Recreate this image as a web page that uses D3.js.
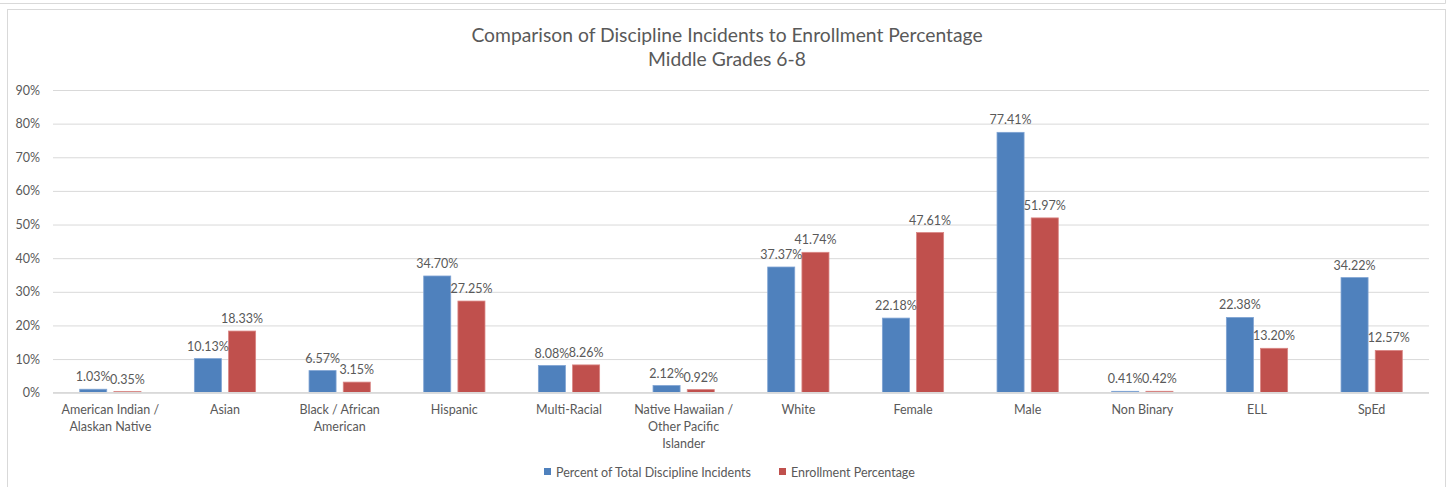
<!DOCTYPE html>
<html>
<head>
<meta charset="utf-8">
<script src="https://cdn.jsdelivr.net/npm/d3@7"></script>
<style>
  html, body { margin: 0; padding: 0; background: #fff; }
  svg { display: block; }
  text { font-family: Lato, "Open Sans", sans-serif; fill: #595959; }
</style>
</head>
<body>
<svg id="chart" width="1448" height="487"></svg>
<script>
const categories = ["American Indian / Alaskan Native", "Asian", "Black / African American", "Hispanic", "Multi-Racial", "Native Hawaiian / Other Pacific Islander", "White", "Female", "Male", "Non Binary", "ELL", "SpEd"];
const disciplinePct = [1.03, 10.13, 6.57, 34.70, 8.08, 2.12, 37.37, 22.18, 77.41, 0.41, 22.38, 34.22];
const enrollmentPct = [0.35, 18.33, 3.15, 27.25, 8.26, 0.92, 41.74, 47.61, 51.97, 0.42, 13.20, 12.57];
const seriesNames = ["Percent of Total Discipline Incidents", "Enrollment Percentage"];
const yTicks = [0, 10, 20, 30, 40, 50, 60, 70, 80, 90];
const titleLines = ["Comparison of Discipline Incidents to Enrollment Percentage", "Middle Grades 6-8"];

(function () {
const colors = ["#4F81BD", "#C0504D"];
const strokeColors = ["#7fa3d3", "#d98583"];
const fs = 12.5;
const svg = d3.select("#chart");

// outer frames
svg.append("path").attr("d", "M0,3.5H1445.5V0").attr("fill", "none").attr("stroke", "#d9d9d9");
svg.append("rect").attr("x", 7.5).attr("y", 9.5).attr("width", 1438).attr("height", 490)
  .attr("fill", "#fff").attr("stroke", "#d9d9d9");

const pLeft = 53, pRight = 1429, pTop = 90, pBottom = 392.7;
const x0 = d3.scaleBand().domain(categories).range([pLeft, pRight]).paddingInner(0).paddingOuter(0);
const y = d3.scaleLinear().domain([0, 90]).range([pBottom, pTop]);
const x1 = d3.scaleBand().domain([0, 1]).range([0, x0.bandwidth()]).paddingInner(0.21).paddingOuter(0.78);

// gridlines
const yAxis = d3.axisLeft(y).tickValues(yTicks).tickSize(-(pRight - pLeft)).tickFormat(d => d + "%").tickPadding(13);
const gy = svg.append("g").attr("transform", `translate(${pLeft},0)`).call(yAxis);
gy.select(".domain").remove();
gy.selectAll(".tick line").attr("stroke", "#d9d9d9").attr("stroke-width", 1);
gy.selectAll(".tick text").attr("font-size", fs).style("fill", "#595959").style("font-family", "Lato, sans-serif");

// bars
const series = [disciplinePct, enrollmentPct];
const groups = svg.append("g").selectAll("g").data(categories).join("g")
  .attr("transform", d => `translate(${x0(d)},0)`);

series.forEach((vals, si) => {
  groups.append("rect")
    .attr("x", x1(si))
    .attr("width", x1.bandwidth())
    .attr("y", (d, i) => y(vals[i]))
    .attr("height", (d, i) => pBottom - y(vals[i]))
    .attr("fill", colors[si])
    .attr("stroke", strokeColors[si])
    .attr("stroke-width", 0.8);
});
series.forEach((vals, si) => {
  groups.append("text")
    .attr("x", x1(si) + x1.bandwidth() / 2)
    .attr("y", (d, i) => y(vals[i]) - 8)
    .attr("text-anchor", "middle")
    .attr("font-size", fs)
    .text((d, i) => vals[i].toFixed(2) + "%");
});

// x axis baseline
svg.append("line").attr("x1", pLeft).attr("x2", pRight).attr("y1", pBottom).attr("y2", pBottom)
  .attr("stroke", "#d9d9d9").attr("stroke-width", 1.5);

// x labels with wrapping
const measure = svg.append("text").attr("font-size", fs).attr("visibility", "hidden");
function wrap(str, maxW) {
  const words = str.split(" ");
  const lines = [];
  let cur = "";
  words.forEach(w => {
    const test = cur ? cur + " " + w : w;
    measure.text(test);
    if (measure.node().getComputedTextLength() > maxW && cur) {
      lines.push(cur); cur = w;
    } else cur = test;
  });
  if (cur) lines.push(cur);
  return lines;
}
categories.forEach(c => {
  const lines = wrap(c, 104);
  const cx = x0(c) + x0.bandwidth() / 2;
  const t = svg.append("text").attr("text-anchor", "middle").attr("font-size", fs)
    .attr("x", cx).attr("y", 414);
  lines.forEach((l, i) => t.append("tspan").attr("x", cx).attr("dy", i === 0 ? 0 : 17).text(l));
});
measure.remove();

// title
titleLines.forEach((l, i) => {
  svg.append("text").attr("x", 727).attr("y", 42 + i * 24).attr("text-anchor", "middle")
    .attr("font-size", 19.3).text(l);
});

// legend
const legend = svg.append("g");
const legendX = [544, 779];
seriesNames.forEach((n, i) => {
  legend.append("rect").attr("x", legendX[i]).attr("y", 468).attr("width", 7).attr("height", 7).attr("fill", colors[i]);
  legend.append("text").attr("x", legendX[i] + 12).attr("y", 477).attr("font-size", fs).text(n);
});
})();
</script>
</body>
</html>
